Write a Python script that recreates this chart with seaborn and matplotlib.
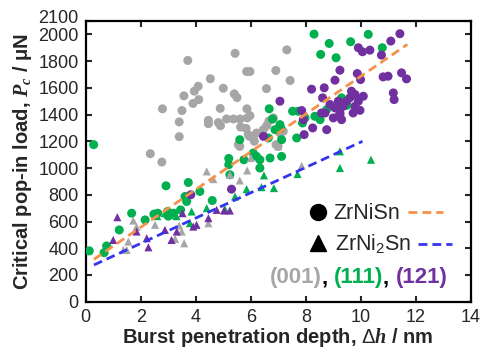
import numpy as np
import pandas as pd
import matplotlib
matplotlib.use("Agg")
import matplotlib.pyplot as plt
import matplotlib.transforms as mtransforms
import seaborn as sns

# ---------------- data ----------------
gray_circ_x = [3.71, 5.43, 7.31, 4.53, 6.91, 5.85, 5.97, 7.43, 5.0, 6.57, 4.09, 3.95, 3.57, 4.11, 3.90,
               5.40, 5.50, 2.79, 3.5, 4.89, 5.86, 3.4, 4.46, 4.46, 4.82, 4.9, 5.12, 5.37, 5.61, 5.87,
               5.97, 5.63, 5.83, 5.91, 5.95, 6.58, 6.66, 6.82, 3.4, 2.35, 2.77, 6.13, 5.55, 6.21, 6.46,
               7.06, 7.18, 6.92, 6.99, 6.09, 5.6]
gray_circ_y = [1805, 1858, 1884, 1668, 1730, 1722, 1722, 1655, 1597, 1594, 1612, 1575, 1540, 1512, 1483,
               1555, 1527, 1443, 1430, 1446, 1443, 1345, 1357, 1332, 1340, 1317, 1367, 1367, 1367, 1375,
               1392, 1307, 1297, 1250, 1237, 1317, 1352, 1375, 1235, 1107, 1045, 1200, 1175, 1262, 1287,
               1262, 1275, 1175, 1162, 1237, 1162]

gray_tri_x = [1.73, 1.55, 1.37, 1.49, 2.52, 3.25, 3.49, 3.58, 4.46, 4.40, 4.64, 5.24, 5.6, 5.87, 6.0,
              7.85, 7.0, 1.85, 3.4]
gray_tri_y = [607, 450, 387, 387, 575, 470, 525, 437, 587, 975, 917, 950, 907, 982, 1075,
              1017, 1162, 560, 570]

green_circ_x = [0.29, 0.13, 0.67, 0.76, 1.22, 1.67, 2.16, 2.48, 2.62, 2.92, 2.98, 3.2, 3.45, 3.73, 3.67,
                3.61, 4.15, 4.6, 5.2, 5.2, 5.24, 5.6, 5.75, 6.09, 6.21, 6.33, 6.33, 6.7, 7.12, 6.64,
                6.67, 6.79, 6.88, 7.06, 7.09, 7.12, 7.52, 7.72, 7.67, 7.88, 7.97, 8.3, 8.54, 8.85, 9.1,
                9.63, 10.27, 10.78, 8.33, 8.52, 8.76, 9.3, 9.5, 3.0]
green_circ_y = [1175, 380, 367, 417, 537, 662, 612, 655, 662, 867, 675, 662, 687, 892, 750,
                787, 825, 757, 1072, 1025, 950, 1212, 1062, 1112, 1087, 1062, 1000, 1075, 1087, 1225,
                1443, 1367, 1287, 1325, 1300, 1212, 1425, 1425, 1225, 1337, 1375, 2002, 1850, 1932, 1825,
                1945, 2000, 1900, 1387, 1362, 1437, 1525, 1470, 640]

green_tri_x = [2.88, 3.06, 3.85, 3.79, 4.4, 5.06, 5.43, 5.85, 6.39, 6.48, 6.84, 7.7, 9.24, 9.24, 10.37,
               3.3, 2.6]
green_tri_y = [662, 650, 675, 587, 700, 692, 787, 842, 857, 945, 850, 955, 1125, 1000, 1062,
               640, 640]

purple_circ_x = [3.82, 5.3, 6.46, 7.06, 7.85, 7.94, 7.91, 8.21, 8.25, 8.7, 8.61, 8.67, 8.76, 8.88, 9.06,
                 9.0, 9.24, 9.3, 9.18, 9.06, 9.24, 9.36, 9.48, 9.6, 9.66, 9.79, 9.79, 9.91, 9.97, 9.72,
                 9.24, 10.09, 9.87, 9.99, 9.91, 10.06, 10.33, 10.75, 11.09, 11.42, 10.81, 10.99, 11.48,
                 11.66, 11.18, 11.21, 8.57]
purple_circ_y = [800, 842, 1237, 1500, 1430, 1250, 1362, 1590, 1300, 1412, 1525, 1600, 1287, 1475, 1450,
                 1375, 1412, 1362, 1500, 1657, 1732, 1462, 1500, 1525, 1575, 1550, 1462, 1500, 1432, 1412,
                 1400, 1537, 1707, 1662, 1900, 1870, 1882, 1845, 1950, 2005, 1682, 1687, 1712,
                 1667, 1562, 1512, 1412]

purple_tri_x = [1.15, 1.0, 1.85, 2.22, 2.28, 3.12, 3.31, 3.52, 3.91, 4.03, 4.46, 4.76, 5.03, 5.24, 2.88]
purple_tri_y = [632, 462, 525, 475, 407, 462, 525, 662, 562, 575, 625, 687, 682, 682, 537]

# fitted trend lines (end points)
fit_zrnisn_x = [0.30, 11.69]
fit_zrnisn_y = [317, 1925]
fit_zrni2sn_x = [0.30, 10.06]
fit_zrni2sn_y = [275, 1200]

x_ticks = [0, 2, 4, 6, 8, 10, 12, 14]
y_ticks = [0, 200, 400, 600, 800, 1000, 1200, 1400, 1600, 1800, 2000, 2100]

# ---------------- build table ----------------
frames = []
for xs, ys, plane, phase in [
    (gray_circ_x, gray_circ_y, "(001)", "ZrNiSn"),
    (gray_tri_x, gray_tri_y, "(001)", "ZrNi2Sn"),
    (green_circ_x, green_circ_y, "(111)", "ZrNiSn"),
    (green_tri_x, green_tri_y, "(111)", "ZrNi2Sn"),
    (purple_circ_x, purple_circ_y, "(121)", "ZrNiSn"),
    (purple_tri_x, purple_tri_y, "(121)", "ZrNi2Sn"),
]:
    frames.append(pd.DataFrame({"dh": xs, "Pc": ys, "plane": plane, "phase": phase}))
df = pd.concat(frames, ignore_index=True)

GRAY, GREEN, PURPLE = "#a6a6a6", "#00b050", "#7030a0"
ORANGE, BLUE = "#f5914a", "#3535ee"
palette = {"(001)": GRAY, "(111)": GREEN, "(121)": PURPLE}

sns.set_style("ticks")
plt.rcParams["font.family"] = ["Liberation Sans", "DejaVu Sans"]
plt.rcParams["mathtext.fontset"] = "custom"
plt.rcParams["mathtext.rm"] = "Liberation Sans"
plt.rcParams["mathtext.it"] = "Liberation Serif:italic:bold"
plt.rcParams["mathtext.bf"] = "Liberation Sans:bold"

fig = plt.figure(figsize=(4.8, 3.53), dpi=100)
ax = fig.add_axes([0.1785, 0.1453, 0.8025, 0.7952])

circ = df[df.phase == "ZrNiSn"]
tri = df[df.phase == "ZrNi2Sn"]
sns.scatterplot(data=circ, x="dh", y="Pc", hue="plane", palette=palette, marker="o",
                s=42, linewidth=0, legend=False, ax=ax, zorder=3)
sns.scatterplot(data=tri, x="dh", y="Pc", hue="plane", palette=palette, marker="^",
                s=34, linewidth=0, legend=False, ax=ax, zorder=3)

sns.lineplot(x=fit_zrnisn_x, y=fit_zrnisn_y, color=ORANGE, lw=2.0, ax=ax, zorder=4,
             linestyle=(0, (3.2, 1.8)))
sns.lineplot(x=fit_zrni2sn_x, y=fit_zrni2sn_y, color=BLUE, lw=2.0, ax=ax, zorder=4,
             linestyle=(0, (3.2, 1.8)))

ax.set_xlim(0, 14)
ax.set_ylim(0, 2100)
ax.set_xticks(x_ticks)
ax.set_yticks(y_ticks)
ax.set_xticklabels([str(v) for v in x_ticks])
ax.set_yticklabels([str(v) for v in y_ticks])
ax.tick_params(direction="in", length=4, width=1.5, top=True, right=True,
               labelsize=13, pad=5)
# lift the top "2100" label a little, as in the reference
top_lab = ax.get_yticklabels()[-1]
top_lab.set_transform(top_lab.get_transform() +
                      mtransforms.ScaledTranslation(0, 3.5 / 72, fig.dpi_scale_trans))
for sp in ax.spines.values():
    sp.set_linewidth(1.6)
    sp.set_color("black")

ax.set_xlabel(r"Burst penetration depth, $\mathit{Δh}$ / nm", fontsize=14.5,
              fontweight="bold", labelpad=0)
ax.set_ylabel(r"Critical pop-in load, $P_c$ / μN", fontsize=14.5,
              fontweight="bold", labelpad=3)

# ---------------- custom legend ----------------
tr = ax.transAxes
ax.plot([0.603], [0.321], marker="o", color="black", ms=11.5, transform=tr, clip_on=False)
ax.plot([0.603], [0.210], marker="^", color="black", ms=12, transform=tr, clip_on=False)
ax.text(0.643, 0.295, "ZrNiSn", fontsize=15.5, transform=tr, va="baseline", ha="left")
ax.text(0.646, 0.184, r"ZrNi$_2$Sn", fontsize=15.5, transform=tr, va="baseline", ha="left")
ax.plot([0.837, 0.927], [0.321, 0.321], color=ORANGE, lw=2.0, ls=(0, (3.2, 1.8)), transform=tr)
ax.plot([0.863, 0.950], [0.206, 0.206], color=BLUE, lw=2.0, ls=(0, (3.2, 1.8)), transform=tr)

parts = [("(001)", GRAY), (", ", "black"), ("(111)", GREEN), (", ", "black"), ("(121)", PURPLE)]
t = ax.text(0.478, 0.066, parts[0][0], color=parts[0][1], fontsize=16, fontweight="bold",
            transform=tr, va="baseline", ha="left")
for s, c in parts[1:]:
    t = ax.annotate(s, xy=(1, 0), xycoords=t, color=c, fontsize=16, fontweight="bold",
                    va="bottom", ha="left")

fig.savefig("out.png", dpi=100)
